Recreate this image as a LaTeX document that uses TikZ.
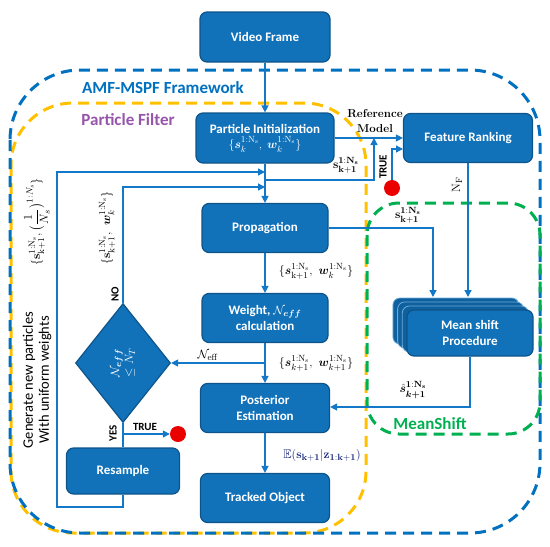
\documentclass[tikz,border=0pt]{standalone}
\usepackage{amsmath,amssymb,bm}
\usepackage[no-math]{fontspec}
\newfontfamily\carl{Carlito}
\usetikzlibrary{arrows.meta,shapes.geometric}
\definecolor{boxblue}{RGB}{17,114,186}
\definecolor{boxline}{RGB}{14,84,138}
\definecolor{backline}{RGB}{110,170,215}
\definecolor{lineblue}{RGB}{20,120,200}
\definecolor{dashblue}{RGB}{0,112,192}
\definecolor{dashyellow}{RGB}{255,192,0}
\definecolor{dashgreen}{RGB}{0,176,80}
\definecolor{purplelab}{RGB}{150,85,170}
\definecolor{navy}{RGB}{20,35,120}
\definecolor{dotred}{RGB}{235,0,0}
\begin{document}
\begin{tikzpicture}[x=1pt,y=-1pt,
  box/.style={rectangle,rounded corners=7pt,fill=boxblue,draw=boxline,line width=1.2pt,
    text=white,font=\carl\bfseries\fontsize{13}{16}\selectfont,align=center,inner sep=0pt},
  backbox/.style={rectangle,rounded corners=7pt,fill=boxblue!85!black,draw=backline,line width=0.8pt,
    minimum width=126pt,minimum height=46pt,inner sep=0pt},
  conn/.style={draw=lineblue,line width=1.3pt},
  arr/.style={conn,-{Triangle[length=7pt,width=7pt]}},
  dsh/.style={line width=3pt,dash pattern=on 11pt off 7pt},
  lab/.style={font=\fontsize{12.5}{14}\selectfont,inner sep=0pt},
  tag/.style={font=\carl\bfseries\fontsize{11}{13}\selectfont,inner sep=0pt},
  reddot/.style={circle,fill=dotred,minimum size=16pt,inner sep=0pt},
  title/.style={font=\carl\bfseries\fontsize{17}{20}\selectfont,inner sep=0pt}
]
\useasboundingbox (0,0) rectangle (550,547);

% dashed regions
\draw[dsh,dashyellow,rounded corners=62pt] (11,103) rectangle (366,533);
\draw[dsh,dashblue,rounded corners=70pt] (10,70) rectangle (540,533);
\draw[dsh,dashgreen,rounded corners=32pt] (367,203) rectangle (540,434);

\node[title,text=dashblue] (amf) at (163,88) {AMF-MSPF Framework};
\node[title,text=purplelab] (pf) at (128,120) {Particle Filter};
\node[title,text=dashgreen] (msl) at (430,424) {MeanShift};

% boxes
\node[box,minimum width=130pt,minimum height=50pt] (vf) at (265,37) {Video Frame};
\node[box,minimum width=138pt,minimum height=50pt] (pi) at (265,138)
  {Particle Initialization\\[-1pt]\fontsize{12.5}{14}\selectfont$\{\boldsymbol{s}_{k}^{\mathrm{1:N_s}},\ \boldsymbol{w}_{k}^{\mathrm{1:N_s}}\}$};
\node[box,minimum width=126pt,minimum height=49pt] (prop) at (265,228) {Propagation};
\node[box,minimum width=126pt,minimum height=49pt] (wt) at (265,318)
  {Weight, $\mathcal{N}_{\boldsymbol{eff}}$\\calculation};
\node[box,minimum width=129pt,minimum height=49pt] (post) at (265,408) {Posterior\\Estimation};
\node[box,minimum width=129pt,minimum height=49pt] (tr) at (265,498) {Tracked Object};
\node[box,minimum width=113pt,minimum height=46pt] (res) at (123,471) {Resample};
\node[box,minimum width=129pt,minimum height=49pt] (fr) at (468,138) {Feature Ranking};
\node[backbox] (ms3) at (455.9,321) {};
\node[backbox] (ms2) at (460.6,325) {};
\node[backbox] (ms1) at (465.3,329) {};
\node[box,minimum width=126pt,minimum height=46pt] (ms) at (470,333) {Mean shift\\Procedure};

\node[diamond,fill=boxblue,draw=boxline,line width=1.2pt,minimum width=95pt,minimum height=119pt,inner sep=0pt] (dia) at (123,363) {};
\node[rotate=90,text=white,align=center,font=\fontsize{12.5}{14}\selectfont,inner sep=0pt] (diat) at (dia.center)
  {$\mathcal{N}_{\boldsymbol{eff}}$\\$\le N_T$};

\node[reddot] (dot1) at (392,188) {};
\node[reddot] (dot2) at (178,434) {};

% junction coordinates
\coordinate (j1) at (265,172);
\coordinate (j2) at (265,187);
\coordinate (j3) at (265,180);
\coordinate (l1) at (57,172);
\coordinate (l2) at (57,507);
\coordinate (l3) at (123,507);
\coordinate (n1) at (123,187);
\coordinate (r1) at (374,180);
\coordinate (r2) at (374,138);
\coordinate (t1) at (392,149);
\coordinate (t2) at (403,149);
\coordinate (p1) at (433,228);
\coordinate (p2) at (433,297);
\coordinate (f2) at (468,297);
\coordinate (m1) at (470,407);
\coordinate (e1) at (265,363);
\coordinate (y1) at (123,434);

% connectors
\draw[arr] (vf) -- (pi);
\draw[arr] (pi) -- (prop);
\draw[arr] (res.south) -- (l3) -- (l2) -- (l1) -- (j1);
\draw[arr] (dia.north) -- (n1) -- (j2);
\draw[arr] (j3) -- (r1) -- (r2);
\draw[arr] (pi.east) -- (fr.west);
\draw[arr] (dot1) -- (t1) -- (t2);
\draw[arr] (prop.east |- p1) -- (p1) -- (p2);
\draw[arr] (fr.south) -- (f2);
\draw[arr] (ms.south) -- (m1) -- (post.east |- m1);
\draw[arr] (prop) -- (wt);
\draw[arr] (wt) -- (post);
\draw[arr] (e1) -- (dia.east);
\draw[conn] (dia.south) -- (res.north);
\draw[arr] (y1) -- (dot2);
\draw[arr] (post) -- (tr);

% labels
\node[lab,font=\bfseries\fontsize{11.5}{13}\selectfont] (ref1) at (375,114) {Reference};
\node[lab,font=\bfseries\fontsize{11.5}{13}\selectfont] (ref2) at (375,129) {Model};
\node[lab] (sl1) at (346,165) {$\mathbf{s}_{\mathbf{k+1}}^{\mathbf{1:N_s}}$};
\node[tag,rotate=90] (true1) at (383,167) {TRUE};
\node[lab,rotate=90] (nf) at (457,185) {$\mathrm{N_F}$};
\node[lab] (sl2) at (408,215) {$\mathbf{s}_{\mathbf{k+1}}^{\mathbf{1:N_s}}$};
\node[lab] (shat) at (413,390) {$\hat{\boldsymbol{s}}_{\boldsymbol{k+1}}^{\mathbf{1:N_s}}$};
\node[lab] (sw1) at (316,271) {$\{\boldsymbol{s}_{\mathrm{k+1}}^{\mathrm{1:N_s}},\ \boldsymbol{w}_{k}^{\mathrm{1:N_s}}\}$};
\node[lab] (sw2) at (316,363) {$\{\boldsymbol{s}_{k+1}^{\mathrm{1:N_s}},\ \boldsymbol{w}_{k+1}^{\mathrm{1:N_s}}\}$};
\node[lab] (neff) at (208,355) {$\mathcal{N}_{\mathrm{eff}}$};
\node[lab,text=navy] (ex) at (322,455) {$\mathbb{E}(\mathbf{s}_{\mathbf{k+1}}|\mathbf{z}_{\mathbf{1:k+1}})$};
\node[tag,rotate=90] (no) at (115,294) {NO};
\node[lab,rotate=90] (sw3) at (107,228) {$\{\mathbf{s}_{\mathrm{k+1}}^{\mathrm{1:N_s}},\ \boldsymbol{w}_{k}^{\mathrm{1:N_s}}\}$};
\node[lab,rotate=90] (sw4) at (37,222) {$\{\mathbf{s}_{\mathrm{k+1}}^{\mathrm{1:N_s}},\bigl(\dfrac{1}{N_s}\bigr)^{1:N_s}\}$};
\node[rotate=90,align=center,font=\carl\fontsize{14.5}{16}\selectfont,inner sep=0pt] (gen) at (37,380)
  {Generate new particles\\With uniform weights};
\node[tag,rotate=90] (yes) at (113,433) {YES};
\node[tag] (true2) at (145,427) {TRUE};
\end{tikzpicture}
\end{document}
